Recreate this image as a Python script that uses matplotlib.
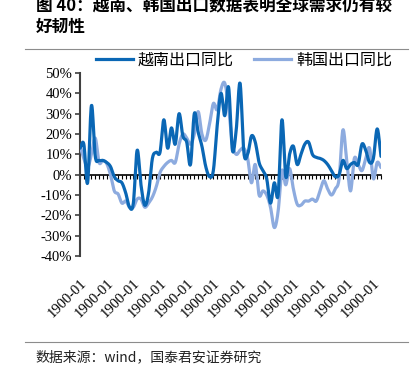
import numpy as np
import matplotlib
matplotlib.use("Agg")
import matplotlib.pyplot as plt
from matplotlib.lines import Line2D

plt.rcParams['font.family'] = ['Noto Sans CJK SC', 'DejaVu Sans']

# --- data (monthly YoY, %) ---
vietnam = [13, 15, -4, 34, 9, 7, 7, 6, 4, -1,
           -3, -4, -9, -16, -14, 12, -5, -15, -9, 8,
           11, 11, 27, 13, 23, 15, 30, 19, 16, 5,
           30, 21, 14, 4, -1, 2, 24, 40, 29, 43,
           12, 22, 45, 11, 10, 19, 16, 6, 2, -2,
           -14, -4, -10, 27, -1, 10, 14, 5, 10, 15,
           16, 10, 8.5, 8, 7, 5, 2, -1, 0, 7,
           3, 5, 6, 5, 15, 12, 6, 8, 22.5, 9]
korea = [14, 8, 3.5, 10, 18, 6, 7, 5.5, 0, -8,
         -9.5, -14, -13, -16, -16, -12, -12, -16, -14, -11,
         -6, 1, 4, 6, 7, 6, 15, 20, 18, 15,
         20, 31, 20, 17, 25, 35, 32, 42, 45, 33,
         15, 10, 12, 13, 8, -4, 5, -10, -8, -10,
         -16, -26, -18, 2, -5, 3, -7, -14.5, -15, -13,
         -13, -12, -13, -8, -3, -7, -10, -7, -2, 22,
         7, -8, 8, 5, 2, 8, 13, -2, 6, 3.5]
series_names = ['越南出口同比', '韩国出口同比']
tick_label = '1900-01'
yticks = [-40, -30, -20, -10, 0, 10, 20, 30, 40, 50]

c_vn = '#0a67b5'
c_kr = '#8dabdf'


def smooth(y, steps=12):
    # Catmull-Rom style smoothing, like Excel "smoothed line"
    y = np.asarray(y, float)
    x = np.arange(len(y), dtype=float)
    p = np.concatenate([[2 * y[0] - y[1]], y, [2 * y[-1] - y[-2]]])
    xs, ys = [], []
    t = np.linspace(0, 1, steps, endpoint=False)
    for i in range(len(y) - 1):
        p0, p1, p2, p3 = p[i], p[i + 1], p[i + 2], p[i + 3]
        yy = 0.5 * ((2 * p1) + (-p0 + p2) * t + (2 * p0 - 5 * p1 + 4 * p2 - p3) * t ** 2
                    + (-p0 + 3 * p1 - 3 * p2 + p3) * t ** 3)
        xs.append(x[i] + t)
        ys.append(yy)
    xs.append([x[-1]])
    ys.append([y[-1]])
    return np.concatenate(xs), np.concatenate(ys)


fig = plt.figure(figsize=(4.13, 3.77), dpi=100)
ax = fig.add_axes([80 / 413, 1 - 256 / 377, 301 / 413, 183 / 377])

xv, yv = smooth(vietnam)
xk, yk = smooth(korea)
ax.plot(xk, yk, color=c_kr, lw=2.3, solid_capstyle='round', zorder=3)
ax.plot(xv, yv, color=c_vn, lw=2.3, solid_capstyle='round', zorder=4)

n = len(vietnam)
ax.set_xlim(0, n - 1)
ax.set_ylim(-40, 50)

# y axis
ax.set_yticks(yticks)
ax.set_yticklabels([f'{v}%' for v in yticks], fontfamily='Liberation Serif', fontsize=10.5)
ax.tick_params(axis='y', direction='out', length=3.5, width=1.2, color='#404040', pad=2)
ax.spines['left'].set_color('#404040')
ax.spines['left'].set_linewidth(1.5)
ax.spines['right'].set_visible(False)
ax.spines['top'].set_visible(False)

# x axis through zero with monthly ticks
ax.spines['bottom'].set_position(('data', 0))
ax.spines['bottom'].set_linewidth(1.2)
ax.spines['bottom'].set_zorder(2)
ax.set_xticks(np.arange(n))
ax.tick_params(axis='x', direction='out', length=3, width=0.8, labelbottom=False)

# category labels at the bottom
sec = ax.secondary_xaxis('bottom')
sec.spines['bottom'].set_visible(False)
pos = np.arange(0, n, 7)
sec.set_xticks(pos)
sec.set_xticklabels([tick_label] * len(pos), rotation=45, ha='right',
                    rotation_mode='anchor', fontfamily='Liberation Serif', fontsize=10.5)
sec.tick_params(axis='x', length=0, pad=15)

# legend
handles = [Line2D([], [], color=c_vn, lw=2.3), Line2D([], [], color=c_kr, lw=2.3)]
fig.legend(handles, series_names, loc='center', bbox_to_anchor=(244 / 413, 1 - 60 / 377),
           ncol=2, frameon=False, fontsize=11.5, handlelength=2.3, handletextpad=0.3,
           columnspacing=1.3)

# title and source
fig.text(36 / 413, 1 - 5 / 377, '图 40：越南、韩国出口数据表明全球需求仍有较',
         fontsize=12, fontweight='bold', va='center', ha='left')
fig.text(36 / 413, 1 - 27 / 377, '好韧性', fontsize=12, fontweight='bold', va='center', ha='left')
fig.add_artist(Line2D([25 / 413, 408 / 413], [1 - 49 / 377, 1 - 49 / 377], color='#8c8c8c', lw=0.8))
fig.add_artist(Line2D([25 / 413, 408 / 413], [1 - 342 / 377, 1 - 342 / 377], color='#8c8c8c', lw=0.8))
fig.text(35 / 413, 1 - 357 / 377, '数据来源：wind，国泰君安证券研究', fontsize=10,
         color='#222222', va='center', ha='left')

fig.savefig('out.png', dpi=100)
